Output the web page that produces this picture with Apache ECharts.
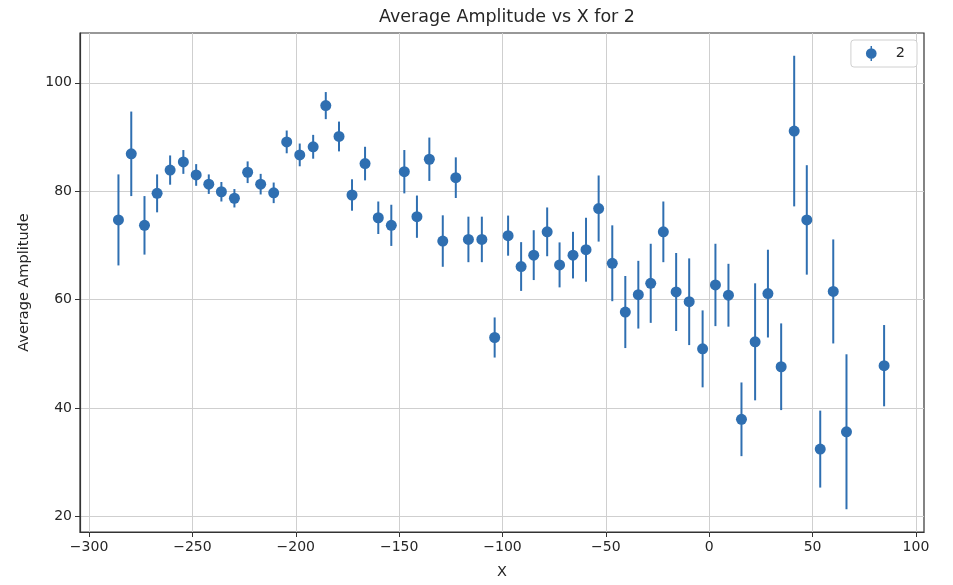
<!DOCTYPE html>
<html>
<head>
<meta charset="utf-8">
<script src="https://cdn.jsdelivr.net/npm/echarts@6/dist/echarts.min.js"></script>
<style>
html,body{margin:0;padding:0;background:#fff;}
#chart{width:953px;height:585px;}
</style>
</head>
<body>
<div id="chart"></div>
<script>
// ---- data ----
var seriesName = '2';
var xValues = [-285.8, -279.6, -273.2, -267.1, -260.8, -254.4, -248.2, -242.1, -236.0, -229.7,
  -223.3, -217.0, -210.7, -204.4, -198.1, -191.6, -185.5, -179.1, -172.8, -166.5,
  -160.1, -153.8, -147.5, -141.4, -135.4, -128.9, -122.6, -116.5, -110.0, -103.8,
  -97.3, -91.0, -84.9, -78.4, -72.4, -65.9, -59.6, -53.5, -46.9, -40.6,
  -34.3, -28.3, -22.2, -16.0, -9.7, -3.2, 3.0, 9.3, 15.6, 22.2,
  28.4, 34.8, 41.1, 47.2, 53.7, 60.0, 66.4, 84.6];
var yValues = [74.7, 86.9, 73.7, 79.6, 83.9, 85.4, 83.0, 81.3, 79.9, 78.7,
  83.5, 81.3, 79.7, 89.1, 86.7, 88.2, 95.8, 90.1, 79.3, 85.1,
  75.1, 73.7, 83.6, 75.3, 85.9, 70.8, 82.5, 71.1, 71.1, 53.0,
  71.8, 66.1, 68.2, 72.5, 66.4, 68.2, 69.2, 76.8, 66.7, 57.7,
  60.9, 63.0, 72.5, 61.4, 59.6, 50.9, 62.7, 60.8, 37.9, 52.2,
  61.1, 47.6, 91.1, 74.7, 32.4, 61.5, 35.6, 47.8];
var yErrors = [8.4, 7.8, 5.4, 3.5, 2.7, 2.2, 2.0, 1.8, 1.8, 1.7,
  2.0, 1.9, 1.9, 2.1, 2.1, 2.2, 2.5, 2.75, 2.9, 3.1,
  3.0, 3.8, 4.0, 3.9, 4.0, 4.75, 3.75, 4.2, 4.2, 3.7,
  3.7, 4.5, 4.6, 4.5, 4.15, 4.3, 5.9, 6.1, 7.0, 6.65,
  6.25, 7.3, 5.6, 7.2, 8.0, 7.1, 7.6, 5.8, 6.8, 10.8,
  8.1, 8.0, 13.9, 10.1, 7.1, 9.6, 14.3, 7.5];
var xTicks = [-300, -250, -200, -150, -100, -50, 0, 50, 100];
var yTicks = [20, 40, 60, 80, 100];
var xRange = [-304.4, 103.9];
var yRange = [17.1, 109.2];

// ---- build chart ----
var color = '#2f6fb1';
var font = 'DejaVu Sans';
var textColor = '#262626';
function fmt(v){ return v < 0 ? '\u2212' + Math.abs(v) : String(v); }

var pointData = xValues.map(function(x, i){ return [x, yValues[i]]; });
var errData = xValues.map(function(x, i){ return [x, yValues[i] - yErrors[i], yValues[i] + yErrors[i]]; });

var chart = echarts.init(document.getElementById('chart'), null, {renderer: 'canvas'});
chart.setOption({
  animation: false,
  backgroundColor: '#fff',
  title: {
    text: 'Average Amplitude vs X for 2',
    left: 502, textAlign: 'center', top: 3,
    textStyle: {fontFamily: font, fontSize: 17.5, fontWeight: 'normal', color: textColor}
  },
  legend: {
    data: [{name: seriesName, icon: 'path://M4.3,0 L5.7,0 L5.7,14 L4.3,14 Z M0,7 A5,5 0 1,1 10,7 A5,5 0 1,1 0,7 Z'}],
    right: 36, top: 40,
    itemWidth: 11, itemHeight: 15,
    padding: [6, 12, 6, 15],
    backgroundColor: '#fff',
    borderColor: '#d0d0d0', borderWidth: 1, borderRadius: 3,
    itemStyle: {color: color, borderWidth: 0},
    textStyle: {fontFamily: font, fontSize: 14.5, color: textColor, padding: [0, 0, 0, 14]}
  },
  grid: {left: 80, right: 29, top: 33, bottom: 49, show: true, borderColor: '#333', borderWidth: 1.2, containLabel: false},
  xAxis: {
    type: 'value', min: xRange[0], max: xRange[1],
    name: 'X', nameLocation: 'middle', nameGap: 33,
    nameTextStyle: {fontFamily: font, fontSize: 14.5, color: textColor},
    axisLine: {show: true, onZero: false, lineStyle: {color: '#333', width: 1.2}},
    axisTick: {show: true, length: 5, customValues: xTicks, lineStyle: {color: '#333'}},
    axisLabel: {customValues: xTicks, formatter: fmt, fontFamily: font, fontSize: 14, color: textColor, margin: 8},
    splitLine: {show: true, lineStyle: {color: '#cfcfcf', width: 1}}
  },
  yAxis: {
    type: 'value', min: yRange[0], max: yRange[1],
    name: 'Average Amplitude', nameLocation: 'middle', nameGap: 48, nameRotate: 90,
    nameTextStyle: {fontFamily: font, fontSize: 14.5, color: textColor},
    axisLine: {show: true, onZero: false, lineStyle: {color: '#333', width: 1.2}},
    axisTick: {show: true, length: 5, customValues: yTicks, lineStyle: {color: '#333'}},
    axisLabel: {customValues: yTicks, formatter: fmt, fontFamily: font, fontSize: 14, color: textColor, margin: 8},
    splitLine: {show: true, lineStyle: {color: '#cfcfcf', width: 1}}
  },
  series: [
    {
      type: 'custom',
      name: 'err',
      data: errData,
      clip: true,
      encode: {x: 0, y: [1, 2]},
      renderItem: function(params, api){
        var lo = api.coord([api.value(0), api.value(1)]);
        var hi = api.coord([api.value(0), api.value(2)]);
        return {type: 'line', shape: {x1: lo[0], y1: lo[1], x2: hi[0], y2: hi[1]},
                style: {stroke: color, lineWidth: 2}};
      },
      z: 2
    },
    {
      type: 'scatter',
      name: seriesName,
      data: pointData,
      symbol: 'circle',
      symbolSize: 11,
      itemStyle: {color: color, opacity: 1},
      z: 3
    }
  ]
});
</script>
</body>
</html>
